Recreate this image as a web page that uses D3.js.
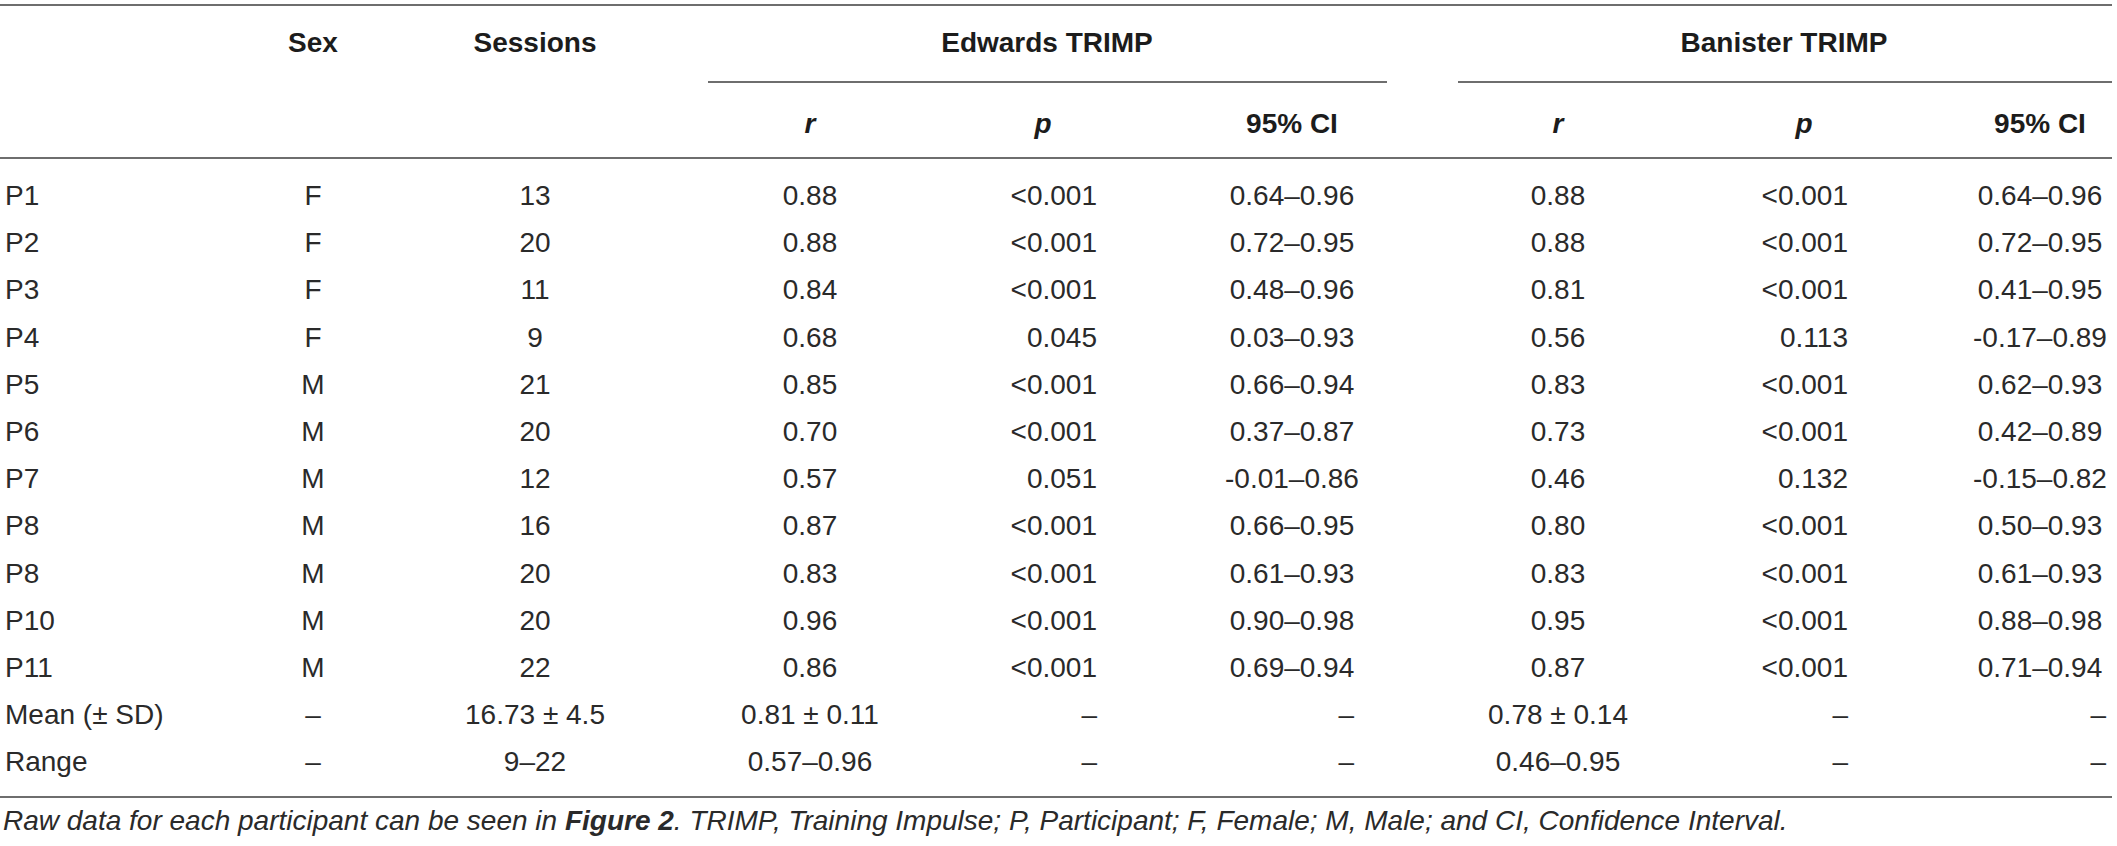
<!DOCTYPE html>
<html>
<head>
<meta charset="utf-8">
<script src="https://cdn.jsdelivr.net/npm/d3@7"></script>
<style>
  html, body { margin: 0; padding: 0; background: #fff; }
  svg { display: block; }
  text { font-family: "Liberation Sans", Arial, Helvetica, sans-serif; }
</style>
</head>
<body>
<div id="table"></div>
<script>
// table values
var participants = ["P1", "P2", "P3", "P4", "P5", "P6", "P7", "P8", "P8", "P10", "P11"];
var sexes = ["F", "F", "F", "F", "M", "M", "M", "M", "M", "M", "M"];
var sessions = [13, 20, 11, 9, 21, 20, 12, 16, 20, 20, 22];

var edwardsR = [0.88, 0.88, 0.84, 0.68, 0.85, 0.70, 0.57, 0.87, 0.83, 0.96, 0.86];
var edwardsP = ["<0.001", "<0.001", "<0.001", "0.045", "<0.001", "<0.001", "0.051", "<0.001", "<0.001", "<0.001", "<0.001"];
var edwardsCI = ["0.64–0.96", "0.72–0.95", "0.48–0.96", "0.03–0.93", "0.66–0.94", "0.37–0.87", "-0.01–0.86", "0.66–0.95", "0.61–0.93", "0.90–0.98", "0.69–0.94"];

var banisterR = [0.88, 0.88, 0.81, 0.56, 0.83, 0.73, 0.46, 0.80, 0.83, 0.95, 0.87];
var banisterP = ["<0.001", "<0.001", "<0.001", "0.113", "<0.001", "<0.001", "0.132", "<0.001", "<0.001", "<0.001", "<0.001"];
var banisterCI = ["0.64–0.96", "0.72–0.95", "0.41–0.95", "-0.17–0.89", "0.62–0.93", "0.42–0.89", "-0.15–0.82", "0.50–0.93", "0.61–0.93", "0.88–0.98", "0.71–0.94"];

var summaryLabels = ["Mean (± SD)", "Range"];
var summarySex = ["–", "–"];
var summarySessions = ["16.73 ± 4.5", "9–22"];
var summaryEdwardsR = ["0.81 ± 0.11", "0.57–0.96"];
var summaryBanisterR = ["0.78 ± 0.14", "0.46–0.95"];
var summaryP = ["–", "–"];
var summaryCI = ["–", "–"];

var groupHeaders = ["Edwards TRIMP", "Banister TRIMP"];
var subHeaders = ["r", "p", "95% CI"];
var caption = "Raw data for each participant can be seen in ";
var captionBold = "Figure 2";
var captionTail = ". TRIMP, Training Impulse; P, Participant; F, Female; M, Male; and CI, Confidence Interval.";

var W = 2117, H = 846;
var fmt = d3.format(".2f");

// build rows
var rows = participants.map(function(p, i) {
  return [p, sexes[i], String(sessions[i]),
          fmt(edwardsR[i]), edwardsP[i], edwardsCI[i],
          fmt(banisterR[i]), banisterP[i], banisterCI[i]];
});
summaryLabels.forEach(function(l, i) {
  rows.push([l, summarySex[i], summarySessions[i],
             summaryEdwardsR[i], summaryP[i], summaryCI[i],
             summaryBanisterR[i], summaryP[i], summaryCI[i]]);
});

// column layout: x = anchor point, dashX = where a "–" placeholder ends
var columns = [
  { x: 5, anchor: "start" },
  { x: 313, anchor: "middle" },
  { x: 535, anchor: "middle" },
  { x: 810, anchor: "middle" },
  { x: 1097, anchor: "end", head: 1043 },
  { x: 1292, anchor: "middle", dashX: 1354 },
  { x: 1558, anchor: "middle" },
  { x: 1848, anchor: "end", head: 1804 },
  { x: 2040, anchor: "middle", dashX: 2106 },
];

var y = d3.scalePoint()
  .domain(d3.range(rows.length))
  .range([205, 205 + 47.2 * (rows.length - 1)]);

var svg = d3.select("#table").append("svg")
  .attr("width", W)
  .attr("height", H);

// rules
var ruleColor = "#6e6e6e";
var rules = [
  [0, 2112, 5], [0, 2112, 158], [0, 2112, 797],
  [708, 1387, 82], [1458, 2112, 82],
];
svg.append("g").selectAll("line").data(rules).enter().append("line")
  .attr("x1", function(d) { return d[0]; })
  .attr("x2", function(d) { return d[1]; })
  .attr("y1", function(d) { return d[2]; })
  .attr("y2", function(d) { return d[2]; })
  .attr("stroke", ruleColor)
  .attr("stroke-width", 2);

// header, first line
var head = svg.append("g")
  .attr("font-size", 28)
  .attr("font-weight", "bold")
  .attr("fill", "#1c1c1c")
  .attr("text-anchor", "middle");
head.append("text").attr("x", columns[1].x).attr("y", 52).text("Sex");
head.append("text").attr("x", columns[2].x).attr("y", 52).text("Sessions");
head.selectAll("text.group").data(groupHeaders).enter().append("text")
  .attr("class", "group")
  .attr("x", function(d, i) { return i === 0 ? 1047 : 1784; })
  .attr("y", 52)
  .text(function(d) { return d; });

// header, second line
[3, 6].forEach(function(start) {
  subHeaders.forEach(function(s, k) {
    var col = columns[start + k];
    var t = head.append("text")
      .attr("x", col.head !== undefined ? col.head : col.x)
      .attr("y", 133)
      .text(s);
    if(k < 2) {
      t.attr("font-style", "italic");
    }
  });
});

// body cells
var body = svg.append("g")
  .attr("font-size", 28)
  .attr("fill", "#2a2a2a");
var rowSel = body.selectAll("g.row").data(rows).enter().append("g")
  .attr("class", "row")
  .attr("transform", function(d, i) { return "translate(0," + y(i) + ")"; });
rowSel.selectAll("text").data(function(d) { return d; }).enter().append("text")
  .attr("x", function(d, j) {
    var col = columns[j];
    if(d === "–" && col.dashX !== undefined) {
      return col.dashX;
    }
    return col.x;
  })
  .attr("text-anchor", function(d, j) {
    var col = columns[j];
    if(d === "–" && col.dashX !== undefined) {
      return "end";
    }
    return col.anchor;
  })
  .text(function(d) { return d; });

// caption, scaled to the width it takes in the figure
var cap = svg.append("text")
  .attr("x", 3)
  .attr("y", 830)
  .attr("font-size", 25)
  .attr("font-style", "italic")
  .attr("fill", "#2a2a2a");
cap.append("tspan").text(caption);
cap.append("tspan").attr("font-weight", "bold").text(captionBold);
cap.append("tspan").text(captionTail);
var capLen = cap.node().getComputedTextLength();
cap.attr("font-size", 25 * 1785 / capLen);
</script>
</body>
</html>
